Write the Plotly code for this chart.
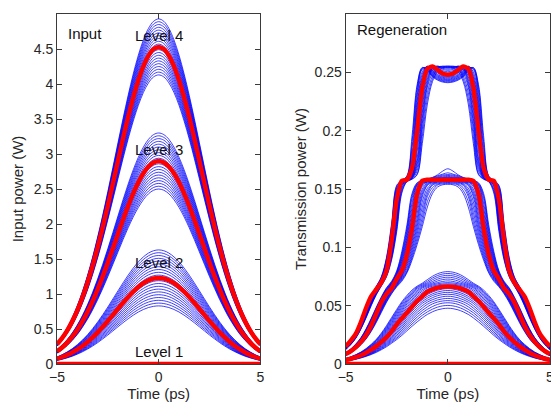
import numpy as np
import plotly.graph_objects as go

# ---------------- data ----------------
time_ps = [-5.0, -4.75, -4.5, -4.25, -4.0, -3.75, -3.5, -3.25, -3.0, -2.75, -2.5,
           -2.25, -2.0, -1.75, -1.5, -1.25, -1.0, -0.75, -0.5, -0.25, 0.0,
           0.25, 0.5, 0.75, 1.0, 1.25, 1.5, 1.75, 2.0, 2.25, 2.5,
           2.75, 3.0, 3.25, 3.5, 3.75, 4.0, 4.25, 4.5, 4.75, 5.0]

# Input power (W) of the noise-free pulses (red)
in_level4 = [0.282, 0.369, 0.477, 0.609, 0.766, 0.950, 1.161, 1.401, 1.667, 1.955, 2.262,
             2.581, 2.905, 3.224, 3.528, 3.808, 4.054, 4.256, 4.406, 4.499, 4.530,
             4.499, 4.406, 4.256, 4.054, 3.808, 3.528, 3.224, 2.905, 2.581, 2.262,
             1.955, 1.667, 1.401, 1.161, 0.950, 0.766, 0.609, 0.477, 0.369, 0.282]
in_level3 = [0.180, 0.236, 0.306, 0.390, 0.490, 0.608, 0.743, 0.897, 1.067, 1.252, 1.448,
             1.652, 1.859, 2.064, 2.259, 2.438, 2.595, 2.724, 2.821, 2.880, 2.900,
             2.880, 2.821, 2.724, 2.595, 2.438, 2.259, 2.064, 1.859, 1.652, 1.448,
             1.252, 1.067, 0.897, 0.743, 0.608, 0.490, 0.390, 0.306, 0.236, 0.180]
in_level2 = [0.076, 0.100, 0.130, 0.165, 0.208, 0.258, 0.315, 0.380, 0.452, 0.531, 0.614,
             0.701, 0.789, 0.875, 0.958, 1.034, 1.101, 1.155, 1.196, 1.221, 1.230,
             1.221, 1.196, 1.155, 1.101, 1.034, 0.958, 0.875, 0.789, 0.701, 0.614,
             0.531, 0.452, 0.380, 0.315, 0.258, 0.208, 0.165, 0.130, 0.100, 0.076]
in_level1 = [0.0] * 41

# Transmission power (W) of the noise-free pulses (red)
out_level4 = [0.015, 0.020, 0.026, 0.036, 0.048, 0.058, 0.064, 0.070, 0.080, 0.106, 0.141,
              0.157, 0.158, 0.168, 0.200, 0.237, 0.253, 0.255, 0.252, 0.249, 0.248,
              0.249, 0.252, 0.255, 0.253, 0.237, 0.200, 0.168, 0.158, 0.157, 0.141,
              0.106, 0.080, 0.070, 0.064, 0.058, 0.048, 0.036, 0.026, 0.020, 0.015]
out_level3 = [0.0085, 0.011, 0.0145, 0.019, 0.025, 0.033, 0.043, 0.053, 0.060, 0.065, 0.073,
              0.080, 0.094, 0.117, 0.146, 0.157, 0.158, 0.158, 0.158, 0.158, 0.158,
              0.158, 0.158, 0.158, 0.158, 0.157, 0.146, 0.117, 0.094, 0.080, 0.073,
              0.065, 0.060, 0.053, 0.043, 0.033, 0.025, 0.019, 0.0145, 0.011, 0.0085]
out_level2 = [0.0036, 0.0045, 0.0058, 0.0075, 0.0097, 0.0123, 0.0153, 0.019, 0.023, 0.028, 0.034,
              0.039, 0.044, 0.049, 0.054, 0.058, 0.062, 0.064, 0.0655, 0.0662, 0.0665,
              0.0662, 0.0655, 0.064, 0.062, 0.058, 0.054, 0.049, 0.044, 0.039, 0.034,
              0.028, 0.023, 0.019, 0.0153, 0.0123, 0.0097, 0.0075, 0.0058, 0.0045, 0.0036]
out_level1 = [0.0] * 41

# Peak-power offsets (W) of the noisy input pulses (blue bundles)
noise_offsets = [-0.40, -0.36, -0.32, -0.28, -0.24, -0.20, -0.16, -0.12, -0.08, -0.04, 0.0,
                 0.04, 0.08, 0.12, 0.16, 0.20, 0.24, 0.28, 0.32, 0.36, 0.40]

# Regenerator power transfer (input W -> transmission W), read from red input/output pairs
xfer_in = [0.00, 0.08, 0.20, 0.30, 0.45, 0.60, 0.75, 0.90, 1.05, 1.20, 1.40, 1.65, 1.85,
           2.00, 2.15, 2.30, 2.45, 2.60, 2.90, 3.10, 3.25, 3.40, 3.55, 3.80, 4.05, 4.25,
           4.40, 4.53, 4.75, 5.00]
xfer_out = [0.000, 0.0037, 0.0093, 0.0145, 0.023, 0.033, 0.043, 0.052, 0.059, 0.065, 0.070,
            0.080, 0.094, 0.107, 0.123, 0.143, 0.153, 0.156, 0.158, 0.160, 0.163, 0.176,
            0.203, 0.237, 0.253, 0.2555, 0.252, 0.248, 0.244, 0.240]

input_ticks = [0, 0.5, 1, 1.5, 2, 2.5, 3, 3.5, 4, 4.5, 5]
trans_ticks = [0, 0.05, 0.1, 0.15, 0.2, 0.25]
time_ticks = [-5, 0, 5]

# ---------------- figure ----------------
BLUE = "#0000FF"
RED = "#FF0000"
fig = go.Figure()

levels_in = [in_level4, in_level3, in_level2]
for lev in levels_in:
    peak = max(lev)
    for off in noise_offsets:
        yin = [v * (peak + off) / peak for v in lev]
        fig.add_trace(go.Scatter(x=time_ps, y=yin, mode="lines", xaxis="x", yaxis="y",
                                 line=dict(color=BLUE, width=0.75, shape="spline"),
                                 hoverinfo="skip"))
        yout = np.interp(yin, xfer_in, xfer_out)
        fig.add_trace(go.Scatter(x=time_ps, y=yout, mode="lines", xaxis="x2", yaxis="y2",
                                 line=dict(color=BLUE, width=0.75, shape="spline"),
                                 hoverinfo="skip"))

for lev in [in_level4, in_level3, in_level2, in_level1]:
    fig.add_trace(go.Scatter(x=time_ps, y=lev, mode="lines", xaxis="x", yaxis="y",
                             line=dict(color=RED, width=4.5, shape="spline")))
for lev in [out_level4, out_level3, out_level2, out_level1]:
    fig.add_trace(go.Scatter(x=time_ps, y=lev, mode="lines", xaxis="x2", yaxis="y2",
                             line=dict(color=RED, width=4.5, shape="spline", smoothing=0.6)))

AX = dict(showline=True, linecolor="#3a3a3a", linewidth=1, mirror="ticks",
          ticks="inside", ticklen=5, tickcolor="#3a3a3a", showgrid=False, zeroline=False,
          tickfont=dict(size=14, color="#262626"))

# page body has an 8px margin: figure is sized/offset so the plot lands where the reference has it
fig.update_layout(
    width=551, height=397,
    margin=dict(l=49, r=5, t=5, b=41),
    paper_bgcolor="white", plot_bgcolor="white",
    showlegend=False,
    font=dict(family="Liberation Sans, Arial, sans-serif", size=14, color="#262626"),
    xaxis=dict(domain=[0, 0.4125], range=[-5, 5], tickvals=time_ticks,
               title=dict(text="Time (ps)", font=dict(size=15), standoff=4), **AX),
    yaxis=dict(domain=[0, 1], range=[0, 5], tickvals=input_ticks,
               title=dict(text="Input power (W)", font=dict(size=15), standoff=6), **AX),
    xaxis2=dict(domain=[0.5855, 1], range=[-5, 5], tickvals=time_ticks, anchor="y2",
                title=dict(text="Time (ps)", font=dict(size=15), standoff=4), **AX),
    yaxis2=dict(domain=[0, 1], range=[0, 0.3], tickvals=trans_ticks, anchor="x2",
                title=dict(text="Transmission power (W)", font=dict(size=15), standoff=4), **AX),
)

txt = dict(showarrow=False, font=dict(size=15, color="#111"))
fig.add_annotation(x=-4.55, y=4.725, xref="x", yref="y", text="Input", xanchor="left", **txt)
fig.add_annotation(x=0, y=4.70, xref="x", yref="y", text="Level 4", **txt)
fig.add_annotation(x=0, y=3.07, xref="x", yref="y", text="Level 3", **txt)
fig.add_annotation(x=0, y=1.45, xref="x", yref="y", text="Level 2", **txt)
fig.add_annotation(x=0, y=0.185, xref="x", yref="y", text="Level 1", **txt)
fig.add_annotation(x=-4.53, y=0.2866, xref="x2", yref="y2", text="Regeneration",
                   xanchor="left", **txt)

fig.write_html("out.html")
